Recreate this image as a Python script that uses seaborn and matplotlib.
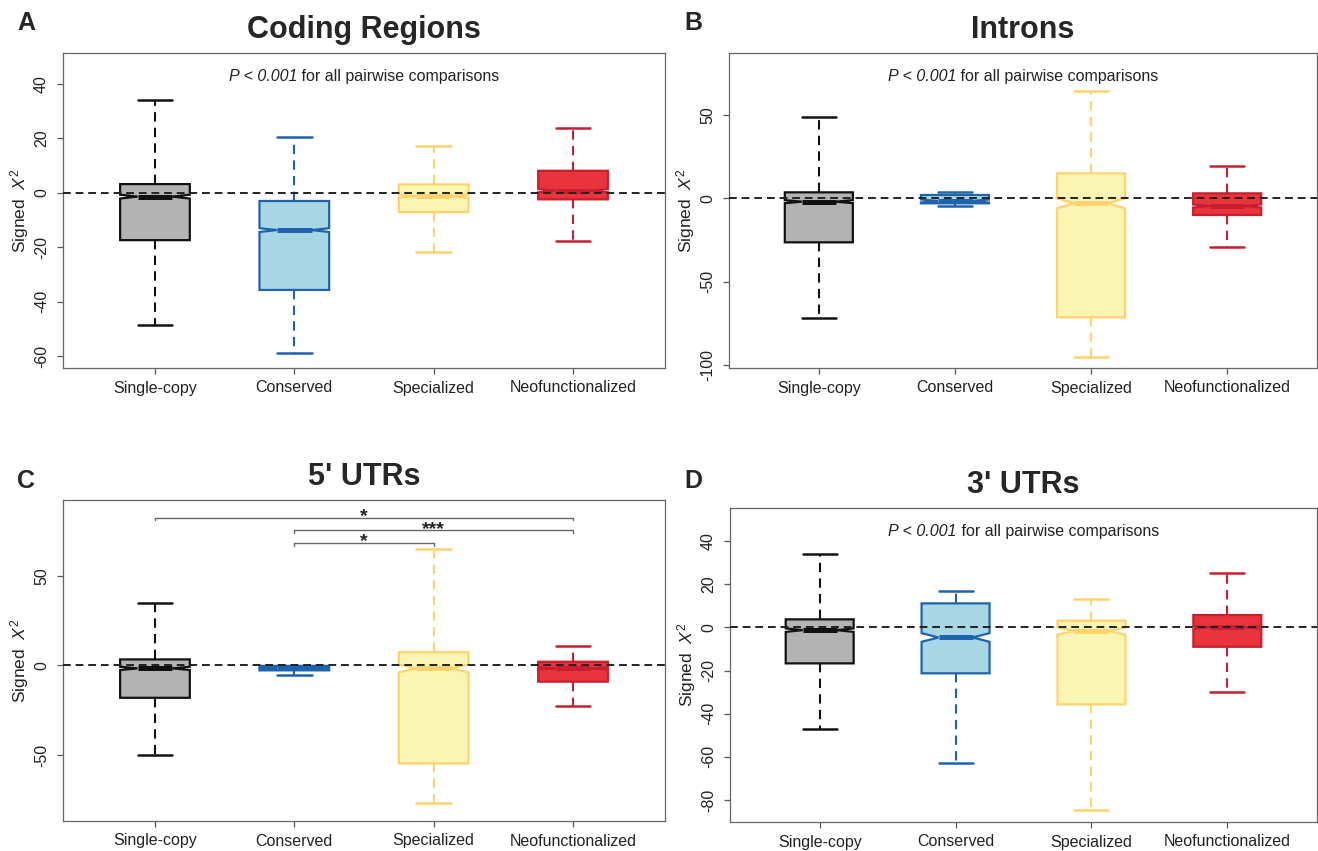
import numpy as np
import matplotlib
matplotlib.use("Agg")
import matplotlib.pyplot as plt
from matplotlib.transforms import offset_copy
import seaborn as sns

groups = ["Single-copy", "Conserved", "Specialized", "Neofunctionalized"]
fills = ["#b3b3b3", "#a7d7e5", "#fbf5b4", "#e8343a"]
edges = ["#111111", "#1f63ad", "#fdd36c", "#c71f30"]

# A: coding regions
cds_lo = [-48.6, -59.0, -21.9, -17.8]
cds_q1 = [-17.4, -35.7, -7.1, -2.4]
cds_med = [-1.4, -13.7, -1.2, 0.8]
cds_q3 = [3.2, -3.0, 3.1, 8.1]
cds_hi = [34.1, 20.4, 17.3, 23.9]
cds_notch = [0.7, 0.7, 0.6, 0.6]

# B: introns
intr_lo = [-72.0, -4.4, -95.4, -29.0]
intr_q1 = [-26.4, -3.0, -71.4, -10.0]
intr_med = [-2.0, -1.6, -3.0, -4.6]
intr_q3 = [3.6, 2.0, 15.0, 3.0]
intr_hi = [49.0, 4.0, 64.5, 19.6]
intr_notch = [0.9, 0.9, 3.0, 0.9]

# C: 5' UTRs
utr5_lo = [-50.0, -5.6, -77.0, -22.5]
utr5_q1 = [-18.1, -2.8, -54.7, -9.1]
utr5_med = [-1.7, -1.5, -1.7, -1.7]
utr5_q3 = [3.3, -0.3, 7.3, 2.0]
utr5_hi = [34.9, -0.3, 64.7, 10.9]
utr5_notch = [0.9, 0.5, 2.2, 0.6]

# D: 3' UTRs
utr3_lo = [-47.1, -63.0, -84.7, -30.1]
utr3_q1 = [-16.7, -21.3, -35.7, -9.0]
utr3_med = [-1.3, -4.7, -1.7, 0.0]
utr3_q3 = [3.7, 11.1, 3.1, 5.7]
utr3_hi = [34.0, 16.8, 13.0, 25.0]
utr3_notch = [0.8, 2.0, 1.7, 0.6]

# 5' UTR significance brackets
sig_pairs = [(1, 4), (2, 4), (2, 3)]
sig_heights = [82.2, 75.3, 68.2]
sig_labels = ["*", "***", "*"]

sns.set_theme(style="white")
plt.rcParams['font.family'] = ['Liberation Sans', 'DejaVu Sans']
plt.rcParams['mathtext.fontset'] = 'custom'
plt.rcParams['mathtext.rm'] = 'Liberation Sans'
plt.rcParams['mathtext.it'] = 'Liberation Sans:italic'

fig = plt.figure(figsize=(13.18, 8.51), dpi=100)
W, H = 1318, 851
renderer = fig.canvas.get_renderer()


def add_ax(left, right, top, bottom):
    return fig.add_axes([left / W, 1 - bottom / H, (right - left) / W, (bottom - top) / H])


panels = [
    dict(box=(63, 665, 53, 368), title="Coding Regions", letter="A", lpos=(26, 23),
         data=(cds_lo, cds_q1, cds_med, cds_q3, cds_hi, cds_notch),
         ylim=(-64.4, 51.4), yticks=[-60, -40, -20, 0, 20, 40], ptext=True),
    dict(box=(729, 1317, 53, 368), title="Introns", letter="B", lpos=(693, 23),
         data=(intr_lo, intr_q1, intr_med, intr_q3, intr_hi, intr_notch),
         ylim=(-101.8, 87.2), yticks=[-100, -50, 0, 50], ptext=True),
    dict(box=(63, 665, 500, 821), title="5' UTRs", letter="C", lpos=(26, 481),
         data=(utr5_lo, utr5_q1, utr5_med, utr5_q3, utr5_hi, utr5_notch),
         ylim=(-86.8, 92.2), yticks=[-50, 0, 50], ptext=False),
    dict(box=(730, 1317, 508, 822), title="3' UTRs", letter="D", lpos=(693, 481),
         data=(utr3_lo, utr3_q1, utr3_med, utr3_q3, utr3_hi, utr3_notch),
         ylim=(-90.2, 55.3), yticks=[-80, -60, -40, -20, 0, 20, 40], ptext=True),
]

for p in panels:
    ax = add_ax(*p["box"])
    lo, q1, med, q3, hi, notch = p["data"]
    stats = []
    for i in range(len(groups)):
        stats.append(dict(med=med[i], q1=q1[i], q3=q3[i], whislo=lo[i], whishi=hi[i],
                          cilo=med[i] - notch[i], cihi=med[i] + notch[i], fliers=[]))
    bp = ax.bxp(stats, positions=[1, 2, 3, 4], widths=0.5, capwidths=0.25,
                shownotches=True, patch_artist=True, showfliers=False, manage_ticks=False)
    for i in range(len(groups)):
        bp['boxes'][i].set_facecolor(fills[i])
        bp['boxes'][i].set_edgecolor(edges[i])
        bp['boxes'][i].set_linewidth(1.6)
        bp['medians'][i].set_color(edges[i])
        bp['medians'][i].set_linewidth(3.6)
        bp['medians'][i].set_solid_capstyle('butt')
        for w in bp['whiskers'][2 * i:2 * i + 2]:
            w.set_color(edges[i])
            w.set_linewidth(1.5)
            w.set_linestyle((0, (4.5, 3)))
        for c in bp['caps'][2 * i:2 * i + 2]:
            c.set_color(edges[i])
            c.set_linewidth(1.8)

    ax.axhline(0, color="#222222", lw=1.4, ls=(0, (4, 2.5)), zorder=6)

    ax.set_xlim(0.34, 4.66)
    ax.set_ylim(*p["ylim"])
    ax.set_xticks([1, 2, 3, 4])
    ax.set_xticklabels(groups, fontsize=11.5, color="#222222")
    ax.set_yticks(p["yticks"])
    ax.set_yticklabels([str(t) for t in p["yticks"]], fontsize=11.5, color="#222222",
                       rotation=90, va="center")
    ax.tick_params(axis="both", direction="out", length=4, width=0.9, color="#555555",
                   bottom=True, left=True)
    ax.tick_params(axis="y", pad=6)
    ax.tick_params(axis="x", pad=5)
    for s in ax.spines.values():
        s.set_color("#666666")
        s.set_linewidth(0.9)

    ax.set_ylabel(r"Signed  $\mathit{X}^2$", fontsize=12.5, color="#222222")
    ax.yaxis.set_label_coords(-32 / (p["box"][1] - p["box"][0]), 0.5)
    ax.set_title(p["title"], fontsize=22, fontweight="bold", pad=11)

    if p["ptext"]:
        t1 = ax.text(0.5, 0.925, "P < 0.001", transform=ax.transAxes, ha="left",
                     va="center", fontsize=11.5, style="italic", color="#222222")
        t2 = ax.text(0.5, 0.925, " for all pairwise comparisons", transform=ax.transAxes,
                     ha="left", va="center", fontsize=11.5, color="#222222")
        w1 = t1.get_window_extent(renderer).width
        w2 = t2.get_window_extent(renderer).width
        shift = (w1 + w2) / 2 * 72 / fig.dpi
        t1.set_transform(offset_copy(ax.transAxes, fig=fig, x=-shift, y=0, units="points"))
        t2.set_transform(offset_copy(ax.transAxes, fig=fig, x=-shift + w1 * 72 / fig.dpi,
                                     y=0, units="points"))
    else:
        for (a, b), y, lab in zip(sig_pairs, sig_heights, sig_labels):
            ax.plot([a, a, b, b], [y - 1.4, y, y, y - 1.4], color="#666666", lw=1.0)
            ax.text((a + b) / 2, y - 4.2, lab, ha="center", va="bottom", fontsize=14,
                    fontweight="bold", color="#222222")

    fig.text(p["lpos"][0] / W, 1 - p["lpos"][1] / H, p["letter"], fontsize=18,
             fontweight="bold", ha="center", va="center")

fig.savefig("out.png", dpi=100)
